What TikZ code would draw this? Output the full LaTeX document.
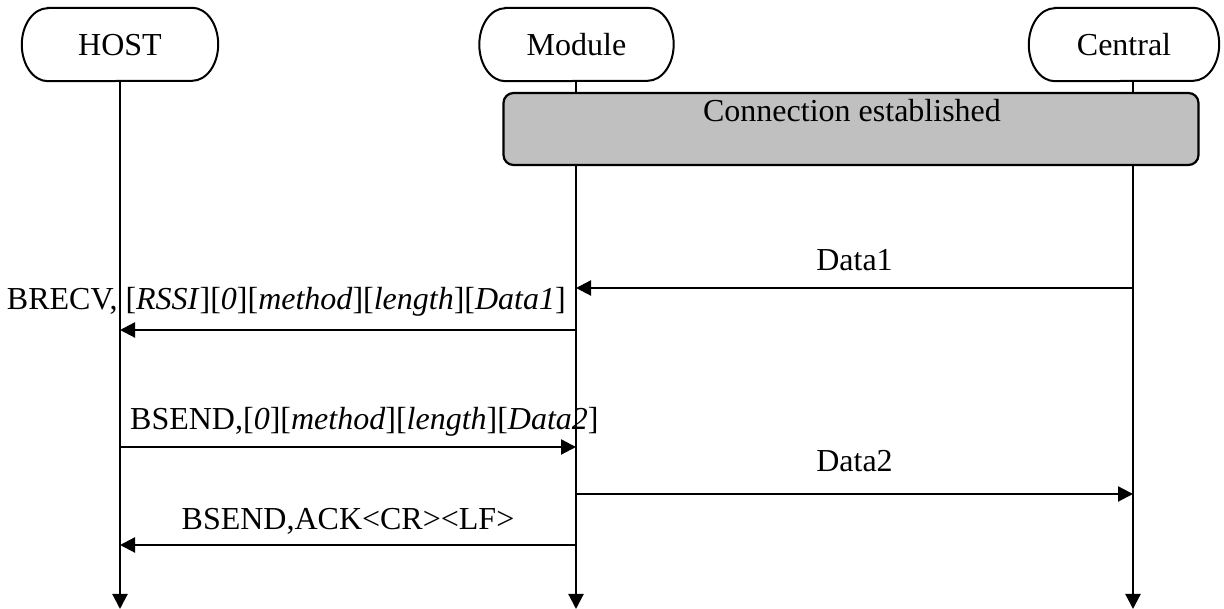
\documentclass[tikz,border=0pt]{standalone}
\usepackage{fontspec}
\setmainfont{Liberation Serif}
\usetikzlibrary{arrows.meta,calc}
\newcommand\pillshape[1]{\draw[pillline] ($(#1.north west)+(26pt,0)$) -- ($(#1.north east)+(-26pt,0)$) arc[start angle=90,end angle=-90,x radius=26pt,y radius=36.5pt] -- ($(#1.south west)+(26pt,0)$) arc[start angle=270,end angle=90,x radius=26pt,y radius=36.5pt] -- cycle;}
\begin{document}
\begin{tikzpicture}[x=1pt,y=1pt,
  every node/.style={font=\fontsize{32}{38}\selectfont, inner sep=0pt},
  pill/.style={minimum height=73pt, text depth=0pt},
  pillline/.style={line width=2pt},
  lifeline/.style={line width=2.2pt, -{Triangle[length=15pt,width=15pt]}},
  msg/.style={line width=2.2pt, -{Triangle[length=15pt,width=15pt]}},
  graybox/.style={draw, line width=2.2pt, fill={rgb,255:red,192;green,192;blue,192}, rounded corners=10pt}
]
\useasboundingbox (0,0) rectangle (1224,609);
% participants
\node[pill, minimum width=196pt] (host) at (120,564.5) {HOST};
\node[pill, minimum width=194pt] (module) at (576.5,564.5) {Module};
\node[pill, minimum width=190pt] (central) at (1124,564.5) {Central};
\pillshape{host}
\pillshape{module}
\pillshape{central}
% lifeline coordinates
\coordinate (hbot) at (120,0);
\coordinate (mbot) at (576,0);
\coordinate (ctop) at (1133,528);
\coordinate (cbot) at (1133,0);
% lifelines
\draw[lifeline] (host.south) -- (hbot);
\draw[lifeline] (module.south -| mbot) -- (mbot);
\draw[lifeline] (ctop) -- (cbot);
% connection box
\node[graybox, minimum width=695pt, minimum height=72pt] (conn) at (851,480) {};
\node[anchor=base] (connlabel) at (852,487) {Connection established};
% message anchor points
\coordinate (c1) at (1133,321); \coordinate (m1) at (576,321);
\coordinate (m2) at (576,279);  \coordinate (h2) at (120,279);
\coordinate (h3) at (120,162);  \coordinate (m3) at (576,162);
\coordinate (m4) at (576,115);  \coordinate (c4) at (1133,115);
\coordinate (m5) at (576,64);   \coordinate (h5) at (120,64);
% messages
\draw[msg] (c1) -- (m1);
\node[anchor=base] (l1) at (854.5,338) {Data1};
\draw[msg] (m2) -- (h2);
\node[anchor=base east] (l2) at (566,299) {BRECV, [\textit{RSSI}][\textit{0}][\textit{method}][\textit{length}][\textit{Data1}]};
\draw[msg] (h3) -- (m3);
\node[anchor=base west] (l3) at (130,179) {BSEND,[\textit{0}][\textit{method}][\textit{length}][\textit{Data2}]};
\draw[msg] (m4) -- (c4);
\node[anchor=base] (l4) at (854.5,137) {Data2};
\draw[msg] (m5) -- (h5);
\node[anchor=base] (l5) at (348,79) {BSEND,ACK<CR><LF>};
\end{tikzpicture}
\end{document}
